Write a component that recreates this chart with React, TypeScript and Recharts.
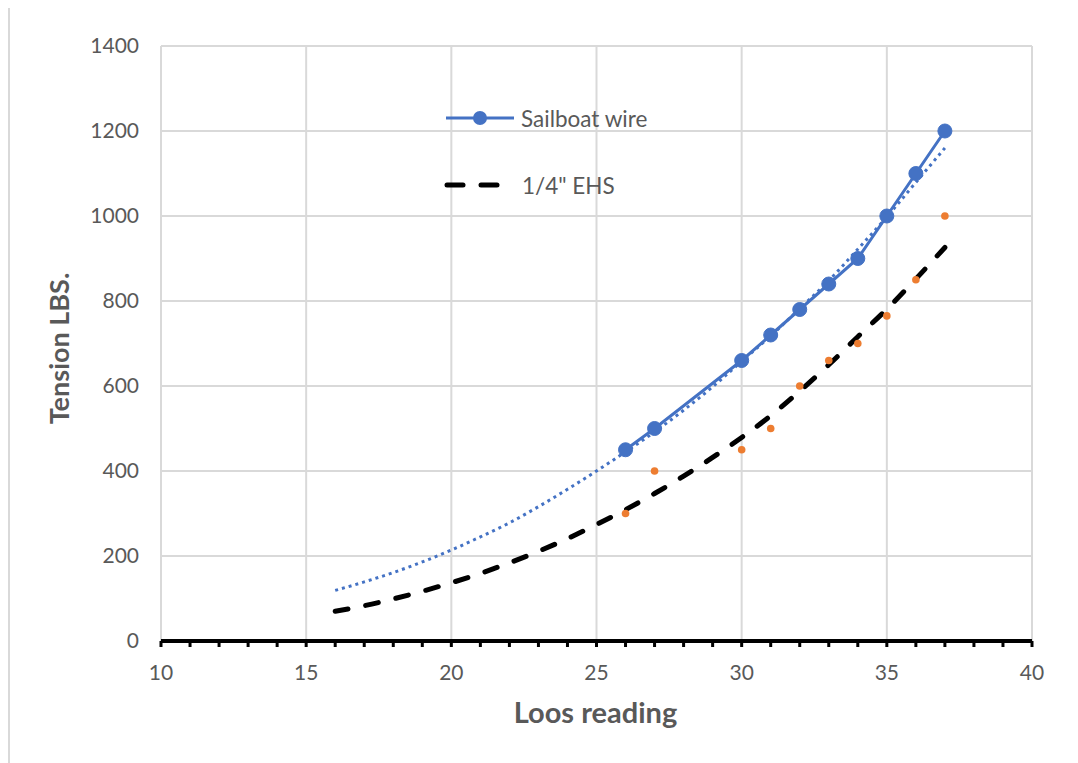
import React from 'react';
import {
  ComposedChart,
  Line,
  Scatter,
  XAxis,
  YAxis,
  CartesianGrid,
  ReferenceLine,
} from 'recharts';

// ---- data ----
const readingX = [26, 27, 30, 31, 32, 33, 34, 35, 36, 37];
const sailboatWire = [450, 500, 660, 720, 780, 840, 900, 1000, 1100, 1200];
const ehs14 = [300, 400, 450, 500, 600, 660, 700, 765, 850, 1000];

const trendX = [16, 17, 18, 19, 20, 21, 22, 23, 24, 25, 26, 27, 28, 29, 30, 31, 32, 33, 34, 35, 36, 37];
const sailTrend = [119, 139, 161, 186, 214, 245, 278, 316, 357, 400, 445, 492, 543, 598, 658, 718, 782, 848, 922, 998, 1079, 1160];
const ehsTrend = [70, 83, 99, 117, 137, 159, 184, 211, 241, 274, 309, 347, 388, 432, 479, 530, 588, 650, 716, 781, 852, 926];

const xTicks = [10, 11, 12, 13, 14, 15, 16, 17, 18, 19, 20, 21, 22, 23, 24, 25, 26, 27, 28, 29, 30, 31, 32, 33, 34, 35, 36, 37, 38, 39, 40];
const xMajor = [10, 15, 20, 25, 30, 35, 40];
const yTicks = [0, 200, 400, 600, 800, 1000, 1200, 1400];

const sailData = readingX.map((x, i) => ({ x, y: sailboatWire[i] }));
const ehsData = readingX.map((x, i) => ({ x, y: ehs14[i] }));
const sailTrendData = trendX.map((x, i) => ({ x, y: sailTrend[i] }));
const ehsTrendData = trendX.map((x, i) => ({ x, y: ehsTrend[i] }));

const FONT = 'Lato, "Open Sans", sans-serif';
const TXT = '#595959';
const GRID = '#d9d9d9';
const BLUE = '#4472C4';
const ORANGE = '#ED7D31';

const XTick = (props: any) => {
  const { x, y, payload } = props;
  if (payload.value % 5 !== 0) return <g />;
  return (
    <text x={x} y={y} dy="0.71em" textAnchor="middle" fill={TXT} fontSize={21} fontFamily={FONT}>
      {payload.value}
    </text>
  );
};

export default function App() {
  return (
    <div style={{ position: 'relative', width: 1070, height: 755, fontFamily: FONT, background: '#fff' }}>
      <div style={{ position: 'absolute', left: 0, top: 0, width: 2, height: 755, background: GRID }} />
      <ComposedChart width={1070} height={755} margin={{ top: 38, right: 46, left: 0, bottom: 0 }}>
        <CartesianGrid vertical={false} stroke={GRID} strokeWidth={2} />
        {xMajor.map((v) => (
          <ReferenceLine key={v} x={v} stroke={GRID} strokeWidth={2} />
        ))}
        <XAxis
          type="number"
          dataKey="x"
          domain={[10, 40]}
          ticks={xTicks}
          interval={0}
          allowDataOverflow
          height={122}
          axisLine={{ stroke: '#000', strokeWidth: 4 }}
          tickLine={{ stroke: '#000', strokeWidth: 3 }}
          tickSize={6}
          tickMargin={18}
          tick={<XTick />}
          label={{
            content: (p: any) => {
              const vb = p.viewBox;
              return (
                <text x={vb.x + vb.width / 2 - 1} y={vb.y + 82} textAnchor="middle" fill={TXT} fontSize={29} fontWeight="bold" fontFamily={FONT}>
                  Loos reading
                </text>
              );
            },
          }}
        />
        <YAxis
          type="number"
          domain={[0, 1400]}
          ticks={yTicks}
          interval={0}
          width={153}
          axisLine={false}
          tickLine={false}
          tickSize={0}
          tickMargin={22}
          tick={{ fill: TXT, fontSize: 21, fontFamily: FONT }}
          label={{
            content: (p: any) => {
              const vb = p.viewBox;
              const cx = 61;
              const cy = vb.y + vb.height / 2 + 5;
              return (
                <text x={cx} y={cy} transform={`rotate(-90, ${cx}, ${cy})`} textAnchor="middle" fill={TXT} fontSize={27} fontWeight="bold" fontFamily={FONT}>
                  Tension LBS.
                </text>
              );
            },
          }}
        />
        <Line
          data={ehsTrendData}
          dataKey="y"
          type="monotone"
          stroke="#000"
          strokeWidth={5}
          strokeDasharray="13 18"
          strokeLinecap="round"
          dot={false}
          activeDot={false}
          isAnimationActive={false}
          legendType="none"
        />
        <Scatter data={ehsData} dataKey="y" fill={ORANGE} isAnimationActive={false} shape={(p: any) => <circle cx={p.cx} cy={p.cy} r={3.8} fill={ORANGE} />} />
        <Line
          data={sailData}
          dataKey="y"
          type="linear"
          stroke={BLUE}
          strokeWidth={3}
          dot={{ r: 7, fill: BLUE, stroke: BLUE, strokeWidth: 1 }}
          activeDot={false}
          isAnimationActive={false}
        />
        <Line
          data={sailTrendData}
          dataKey="y"
          type="monotone"
          stroke={BLUE}
          strokeWidth={3}
          strokeDasharray="3 4"
          dot={false}
          activeDot={false}
          isAnimationActive={false}
        />
      </ComposedChart>
      <svg width={320} height={120} style={{ position: 'absolute', left: 420, top: 80 }}>
        <line x1={18} y1={30} x2={86} y2={30} stroke={BLUE} strokeWidth={3} />
        <circle cx={52} cy={30} r={7} fill={BLUE} />
        <text x={93} y={30} dominantBaseline="central" fill={TXT} fontSize={22.5} fontFamily={FONT}>
          Sailboat wire
        </text>
        <line x1={19} y1={97} x2={35} y2={97} stroke="#000" strokeWidth={5} strokeLinecap="round" />
        <line x1={53} y1={97} x2={69} y2={97} stroke="#000" strokeWidth={5} strokeLinecap="round" />
        <text x={94} y={97} dominantBaseline="central" fill={TXT} fontSize={22.5} fontFamily={FONT}>
          1/4" EHS
        </text>
      </svg>
    </div>
  );
}
